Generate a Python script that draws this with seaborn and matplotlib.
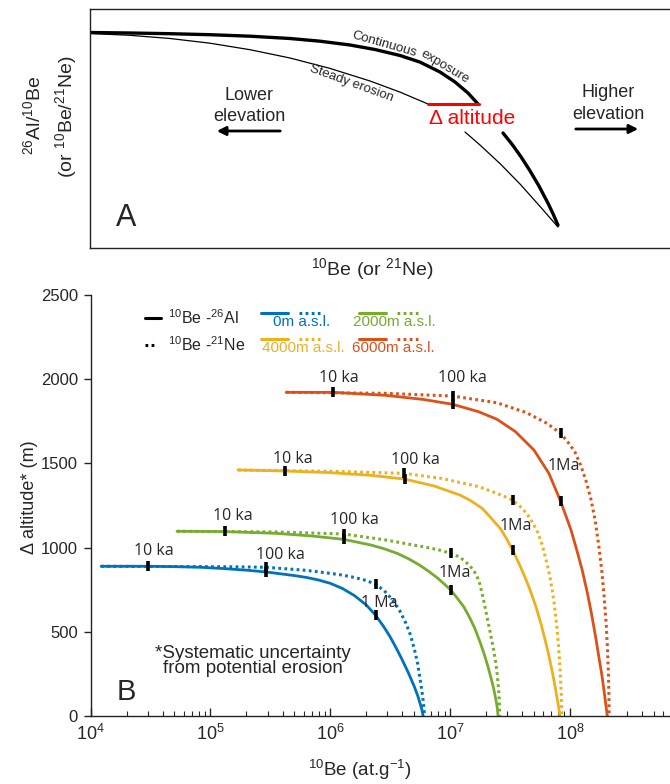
import numpy as np
import pandas as pd
import matplotlib
matplotlib.use("Agg")
import matplotlib.pyplot as plt
import seaborn as sns
from matplotlib.lines import Line2D

# ---------------- Panel B data (log10 of 10Be concentration, delta altitude m)
blue_solid_logN = [4.088, 4.483, 4.7, 4.922, 5.1, 5.3, 5.468, 5.6, 5.7, 5.8, 5.9, 6.0, 6.1, 6.2, 6.3, 6.379,
                   6.45, 6.5, 6.55, 6.6, 6.65, 6.7, 6.73, 6.75, 6.765, 6.772, 6.775]
blue_solid_alt = [889, 889, 887, 883, 876, 866, 855, 843, 834, 823, 808, 788, 758, 716, 660, 598,
                  527, 470, 405, 335, 260, 178, 121, 75, 38, 15, 0]
blue_dot_logN = [4.088, 4.922, 5.2, 5.468, 5.579, 5.8, 6.0, 6.1, 6.2, 6.3, 6.379, 6.45, 6.521, 6.58, 6.632,
                 6.67, 6.704, 6.73, 6.747, 6.765, 6.775, 6.782, 6.787]
blue_dot_alt = [889, 887, 886, 883, 877, 865, 847, 837, 823, 805, 782, 745, 689, 625, 550,
                480, 392, 310, 234, 150, 95, 50, 0]

green_solid_logN = [4.721, 5.125, 5.539, 5.848, 6.111, 6.342, 6.45, 6.558, 6.65, 6.744, 6.82, 6.898, 6.95, 7.006,
                    7.06, 7.114, 7.16, 7.207, 7.25, 7.284, 7.32, 7.346, 7.365, 7.383, 7.393, 7.401]
green_solid_alt = [1097, 1095, 1085, 1069, 1049, 1015, 993, 966, 935, 897, 860, 818, 785, 748,
                   700, 649, 590, 520, 440, 370, 285, 215, 160, 95, 55, 0]
green_dot_logN = [4.721, 5.539, 6.111, 6.466, 6.775, 6.9, 7.006, 7.06, 7.114, 7.16, 7.195, 7.225, 7.25, 7.275,
                  7.30, 7.33, 7.361, 7.38, 7.395, 7.405, 7.41, 7.414]
green_dot_alt = [1097, 1093, 1081, 1045, 1005, 988, 966, 950, 926, 895, 867, 830, 780, 705,
                 620, 515, 405, 325, 240, 160, 100, 0]

yellow_solid_logN = [5.230, 5.626, 6.002, 6.342, 6.620, 6.867, 7.083, 7.17, 7.269, 7.35, 7.423, 7.47, 7.522,
                     7.574, 7.624, 7.67, 7.717, 7.76, 7.794, 7.826, 7.856, 7.878, 7.896, 7.908, 7.917]
yellow_solid_alt = [1461, 1455, 1445, 1429, 1407, 1366, 1312, 1280, 1233, 1170, 1110, 1055, 986,
                    908, 827, 745, 649, 545, 451, 355, 254, 170, 95, 45, 0]
yellow_dot_logN = [5.230, 6.002, 6.614, 6.929, 7.238, 7.392, 7.46, 7.522, 7.58, 7.639, 7.69, 7.732, 7.77,
                   7.809, 7.83, 7.85, 7.87, 7.89, 7.905, 7.918, 7.926, 7.93, 7.933]
yellow_dot_alt = [1461, 1453, 1441, 1411, 1362, 1322, 1302, 1281, 1248, 1203, 1148, 1090, 1015,
                  905, 840, 760, 665, 540, 420, 280, 170, 100, 0]

red_solid_logN = [5.632, 6.024, 6.466, 6.775, 7.022, 7.238, 7.392, 7.547, 7.701, 7.825, 7.923, 8.010, 8.06,
                  8.103, 8.145, 8.180, 8.215, 8.242, 8.268, 8.288, 8.30, 8.313]
red_solid_alt = [1922, 1922, 1904, 1880, 1851, 1807, 1762, 1688, 1579, 1441, 1275, 1104, 980,
                 867, 735, 610, 470, 352, 240, 135, 70, 0]
red_dot_logN = [5.632, 6.466, 7.022, 7.392, 7.639, 7.809, 7.923, 7.98, 8.041, 8.09, 8.133, 8.175, 8.211,
                8.24, 8.266, 8.286, 8.303, 8.314, 8.322, 8.326, 8.328]
red_dot_alt = [1922, 1916, 1900, 1860, 1801, 1738, 1678, 1630, 1570, 1490, 1401, 1290, 1164,
               1020, 867, 710, 550, 400, 254, 130, 0]

# time markers (log10 N, alt): 10 ka, 100 ka (solid, dotted), 1 Ma (solid, dotted)
tick_logN = [4.483, 5.468, 5.468, 6.379, 6.379,
             5.125, 6.111, 6.111, 7.006, 7.006,
             5.626, 6.620, 6.614, 7.522, 7.522,
             6.024, 7.022, 7.022, 7.923, 7.923]
tick_alt = [889, 855, 883, 598, 782,
            1097, 1049, 1081, 748, 966,
            1455, 1407, 1441, 986, 1281,
            1922, 1851, 1900, 1275, 1678]

# time labels
lab_text = ["10 ka", "100 ka", "1 Ma", "10 ka", "100 ka", "1Ma",
            "10 ka", "100 ka", "1Ma", "10 ka", "100 ka", "1Ma"]
lab_logN = [4.526, 5.582, 6.407, 5.187, 6.200, 7.040, 5.690, 6.713, 7.550, 6.071, 7.107, 7.945]
lab_alt = [982, 956, 673, 1188, 1164, 849, 1528, 1522, 1126, 2005, 2005, 1482]

# ---------------- Panel A schematic (arbitrary units)
cont1_x = [0, 40, 80, 120, 160, 200, 230, 260, 285, 310, 330, 350, 365, 378, 388]
cont1_y = [215.8, 215.3, 214.6, 213.6, 212.1, 209.8, 207.1, 203.3, 198.8, 192.8, 186.2, 176.3, 166.3, 155.3, 144.3]
cont2_x = [413, 422, 431, 440, 449, 458, 463, 468]
cont2_y = [115.3, 104.1, 91.5, 77.5, 62.2, 45.1, 34.6, 23.1]
ero1_x = [0, 40, 80, 120, 160, 200, 240, 280, 310, 338]
ero1_y = [214.8, 213.0, 209.8, 205.1, 198.6, 190.3, 179.9, 167.3, 156.2, 144.3]
ero2_x = [375, 390, 410, 430, 450, 468]
ero2_y = [116.3, 103.3, 84.7, 64.3, 41.9, 21.3]
dalt_x = [338, 389]
dalt_y = [144.3, 144.3]

BLUE = "#0072BD"; GREEN = "#77AC30"; YELLOW = "#EDB120"; RED = "#D95319"

sns.set_style("ticks")
plt.rcParams['font.family'] = ['Liberation Sans', 'DejaVu Sans']
plt.rcParams['mathtext.fontset'] = 'custom'
plt.rcParams['mathtext.rm'] = 'Liberation Sans'
plt.rcParams['mathtext.it'] = 'Liberation Sans:italic'
plt.rcParams['mathtext.bf'] = 'Liberation Sans:bold'

W, H = 670, 784
fig = plt.figure(figsize=(W / 100, H / 100), dpi=100)

def fx(px):
    return px / W

def fy(py):
    return 1 - py / H

OPEN = ["Open Sans", "DejaVu Sans"]

# ---------------- Panel A
axA = fig.add_axes([fx(90), fy(248.3), 1 - fx(90), (248.3 - 9) / H])
axA.set_xlim(0, 580)
axA.set_ylim(0, 239.3)
axA.set_xticks([]); axA.set_yticks([])
for s in ["top", "bottom", "left"]:
    axA.spines[s].set_linewidth(1.0)
    axA.spines[s].set_color("#222222")
axA.spines["right"].set_visible(False)

sns.lineplot(x=cont1_x, y=cont1_y, ax=axA, color="k", lw=2.4, sort=False, estimator=None)
sns.lineplot(x=cont2_x, y=cont2_y, ax=axA, color="k", lw=2.4, sort=False, estimator=None)
sns.lineplot(x=ero1_x, y=ero1_y, ax=axA, color="k", lw=0.9, sort=False, estimator=None)
sns.lineplot(x=ero2_x, y=ero2_y, ax=axA, color="k", lw=0.9, sort=False, estimator=None)
sns.lineplot(x=dalt_x, y=dalt_y, ax=axA, color="#ff0000", lw=2.2, sort=False, estimator=None)
axA.set_xlabel(""); axA.set_ylabel("")

axA.text(294, 204.3, "Continuous", rotation=-16, fontsize=9.5, ha="center", va="center", rotation_mode="anchor")
axA.text(355, 181.5, "exposure", rotation=-31, fontsize=9.5, ha="center", va="center", rotation_mode="anchor")
axA.text(261, 164.8, "Steady erosion", rotation=-20, fontsize=9.5, ha="center", va="center", rotation_mode="anchor")
axA.text(159, 142.5, "Lower\nelevation", fontsize=13, ha="center", va="center", linespacing=1.35)
axA.annotate("", xy=(124, 117.3), xytext=(193, 117.3),
             arrowprops=dict(arrowstyle="-|>", lw=2, color="k", mutation_scale=13))
axA.text(518, 145, "Higher\nelevation", fontsize=13, ha="center", va="center", linespacing=1.35)
axA.annotate("", xy=(551, 119.3), xytext=(483, 119.3),
             arrowprops=dict(arrowstyle="-|>", lw=2, color="k", mutation_scale=13))
axA.text(382, 129.3, "Δ altitude", color="#ff0000", fontsize=15, ha="center", va="center")
axA.text(36, 30.3, "A", fontsize=22, ha="center", va="center")

fig.text(fx(33), fy(115), "$^{26}$Al/$^{10}$Be", rotation=90, fontsize=14, ha="center", va="center")
fig.text(fx(66), fy(117), "(or $^{10}$Be/$^{21}$Ne)", rotation=90, fontsize=14, ha="center", va="center")
fig.text(fx(372), fy(269), "$^{10}$Be (or $^{21}$Ne)", fontsize=14, ha="center", va="center")

# ---------------- Panel B
axB = fig.add_axes([fx(90.6), fy(716), 1 - fx(90.6), 421 / H])
axB.set_xscale("log")
axB.set_xlim(1e4, 10 ** 8.836)
axB.set_ylim(0, 2500)
axB.spines["top"].set_visible(False)
axB.spines["right"].set_visible(False)
for s in ["bottom", "left"]:
    axB.spines[s].set_linewidth(1.0)
    axB.spines[s].set_color("#222222")

curves = [
    (blue_solid_logN, blue_solid_alt, BLUE, "-"), (blue_dot_logN, blue_dot_alt, BLUE, ":"),
    (green_solid_logN, green_solid_alt, GREEN, "-"), (green_dot_logN, green_dot_alt, GREEN, ":"),
    (yellow_solid_logN, yellow_solid_alt, YELLOW, "-"), (yellow_dot_logN, yellow_dot_alt, YELLOW, ":"),
    (red_solid_logN, red_solid_alt, RED, "-"), (red_dot_logN, red_dot_alt, RED, ":"),
]
for lx, ly, c, ls in curves:
    xs = 10 ** np.array(lx, dtype=float)
    if ls == "-":
        sns.lineplot(x=xs, y=ly, ax=axB, color=c, lw=2.0, sort=False, estimator=None)
    else:
        sns.lineplot(x=xs, y=ly, ax=axB, color=c, lw=2.2, sort=False, estimator=None,
                     dashes=False, linestyle=(0, (0.9, 1.1)))

axB.plot(10 ** np.array(tick_logN), tick_alt, ls="none", marker="|", ms=6.5, mew=2.6, color="k", zorder=5)
for t, lx, ly in zip(lab_text, lab_logN, lab_alt):
    axB.text(10 ** lx, ly, t, fontsize=11.5, ha="center", va="center", family=OPEN)

axB.set_yticks([0, 500, 1000, 1500, 2000, 2500])
axB.tick_params(axis="y", direction="out", length=5, width=1, labelsize=12, pad=4)
axB.tick_params(axis="x", which="major", direction="in", length=6, width=1, labelsize=13, pad=6)
axB.tick_params(axis="x", which="minor", direction="in", length=3.5, width=0.8)
axB.set_xticks([1e4, 1e5, 1e6, 1e7, 1e8])
axB.set_xlabel(""); axB.set_ylabel("")
fig.text(fx(29), fy(497), "Δ altitude* (m)", rotation=90, fontsize=13, ha="center", va="center")
fig.text(fx(360), fy(770), "$^{10}$Be (at.g$^{-1}$)", fontsize=13.5, ha="center", va="center")

fig.text(fx(253), fy(661), "*Systematic uncertainty\nfrom potential erosion",
         fontsize=13.5, ha="center", va="center", linespacing=0.9)
fig.text(fx(126), fy(692), "B", fontsize=21, ha="center", va="center")

# ---------------- legend (manual)
def seg(x0, x1, y, c, ls, lw=2.2):
    fig.add_artist(Line2D([fx(x0), fx(x1)], [fy(y), fy(y)], color=c, lw=lw, ls=ls,
                          transform=fig.transFigure))

seg(145, 161, 318, "k", "-", 2.2)
fig.text(fx(168), fy(318), "$^{10}$Be -$^{26}$Al", fontsize=11.5, va="center")
seg(145, 155, 345, "k", (0, (0.9, 1.1)), 2.2)
fig.text(fx(168), fy(345), "$^{10}$Be -$^{21}$Ne", fontsize=11.5, va="center")

leg = [(261, 313, BLUE, "0m a.s.l.", 273), (359, 313, GREEN, "2000m a.s.l.", 353),
       (261, 339, YELLOW, "4000m a.s.l.", 262), (359, 339, RED, "6000m a.s.l.", 352)]
for x0, y0, c, t, tx in leg:
    seg(x0, x0 + 27, y0, c, "-", 2.2)
    seg(x0 + 38, x0 + 59, y0, c, (0, (0.9, 1.1)), 2.2)
    fig.text(fx(tx), fy(y0 + 9), t, color=c, fontsize=11, va="center")

fig.savefig("out.png", dpi=100)
